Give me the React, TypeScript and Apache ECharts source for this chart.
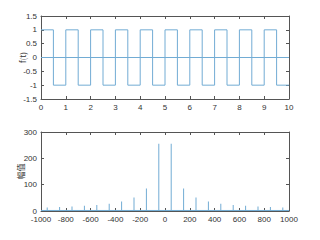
import React, { useEffect, useRef } from "react";
import * as echarts from "echarts";

const squareLevels = [1, -1, 1, -1, 1, -1, 1, -1, 1, -1, 1, -1, 1, -1, 1, -1, 1, -1, 1, -1];
const halfPeriod = 0.5;
const freqs = [-950, -850, -750, -650, -550, -450, -350, -250, -150, -50, 50, 150, 250, 350, 450, 550, 650, 750, 850, 950];
const amps = [13, 15, 17, 20, 23, 28, 36, 51, 85, 255, 255, 85, 51, 36, 28, 23, 20, 17, 15, 13];
const floorLevel = [[-1000, 2], [1000, 2]];
const topYTicks = [-1.5, 1.5];
const bottomYTicks = [0, 300];

const LINE = "#72acd4";
const AX = "#555";
const TXT = "#333";

export default function App() {
  const ref = useRef<HTMLDivElement>(null);
  useEffect(() => {
    const chart = echarts.init(ref.current!, undefined, { renderer: "svg" });
    const sq: number[][] = squareLevels.map((v, i) => [i * halfPeriod, v]);
    sq.push([squareLevels.length * halfPeriod, squareLevels[squareLevels.length - 1]]);
    const font = { fontFamily: "Liberation Sans, Arial", fontSize: 8, color: TXT };
    const mkAxis = (extra: any, labels: boolean) => ({
      axisLine: { show: true, onZero: false, lineStyle: { color: AX, width: 1 } },
      axisTick: { show: true, inside: true, length: 3, lineStyle: { color: AX } },
      axisLabel: { show: labels, ...font, margin: 4, formatter: (v: number) => String(v) },
      splitLine: { show: false },
      ...extra,
    });
    const grids = [
      { left: 41, right: 31, top: 16, height: 83 },
      { left: 41, right: 31, top: 132, height: 79 },
    ];
    const xAxes: any[] = [];
    const yAxes: any[] = [];
    const xdefs = [
      { min: 0, max: 10, interval: 1 },
      { min: -1000, max: 1000, interval: 200 },
    ];
    const ydefs = [
      { min: topYTicks[0], max: topYTicks[1], interval: 0.5, name: "f(t)" },
      { min: bottomYTicks[0], max: bottomYTicks[1], interval: 100, name: "幅值" },
    ];
    [0, 1].forEach((g) => {
      xAxes.push(mkAxis({ type: "value", gridIndex: g, position: "bottom", ...xdefs[g] }, true));
      xAxes.push(mkAxis({ type: "value", gridIndex: g, position: "top", ...xdefs[g] }, false));
      const { name, ...yd } = ydefs[g];
      yAxes.push(
        mkAxis(
          {
            type: "value",
            gridIndex: g,
            position: "left",
            ...yd,
            name,
            nameLocation: "middle",
            nameGap: g === 0 ? 15 : 17,
            nameMoveOverlap: false,
            nameTextStyle: { ...font, fontFamily: "Noto Sans CJK SC, Liberation Sans", fontSize: 8 },
          },
          true
        )
      );
      yAxes.push(mkAxis({ type: "value", gridIndex: g, position: "right", ...yd }, false));
    });
    chart.setOption({
      animation: false,
      backgroundColor: "#fff",
      grid: grids,
      xAxis: xAxes,
      yAxis: yAxes,
      series: [
        {
          type: "line",
          xAxisIndex: 0,
          yAxisIndex: 0,
          data: sq,
          step: "end",
          symbol: "none",
          lineStyle: { color: LINE, width: 1 },
        },
        {
          type: "line",
          xAxisIndex: 0,
          yAxisIndex: 0,
          data: [[0, 0], [10, 0]],
          symbol: "none",
          lineStyle: { color: LINE, width: 1 },
        },
        {
          type: "line",
          xAxisIndex: 2,
          yAxisIndex: 2,
          data: floorLevel,
          symbol: "none",
          lineStyle: { color: LINE, width: 1 },
        },
        {
          type: "bar",
          xAxisIndex: 2,
          yAxisIndex: 2,
          data: freqs.map((f, i) => [f, amps[i]]),
          barWidth: 1,
          itemStyle: { color: LINE },
        },
      ],
    });
    return () => chart.dispose();
  }, []);
  return <div ref={ref} style={{ width: 320, height: 240, position: "fixed", left: 0, top: 0 }} />;
}
